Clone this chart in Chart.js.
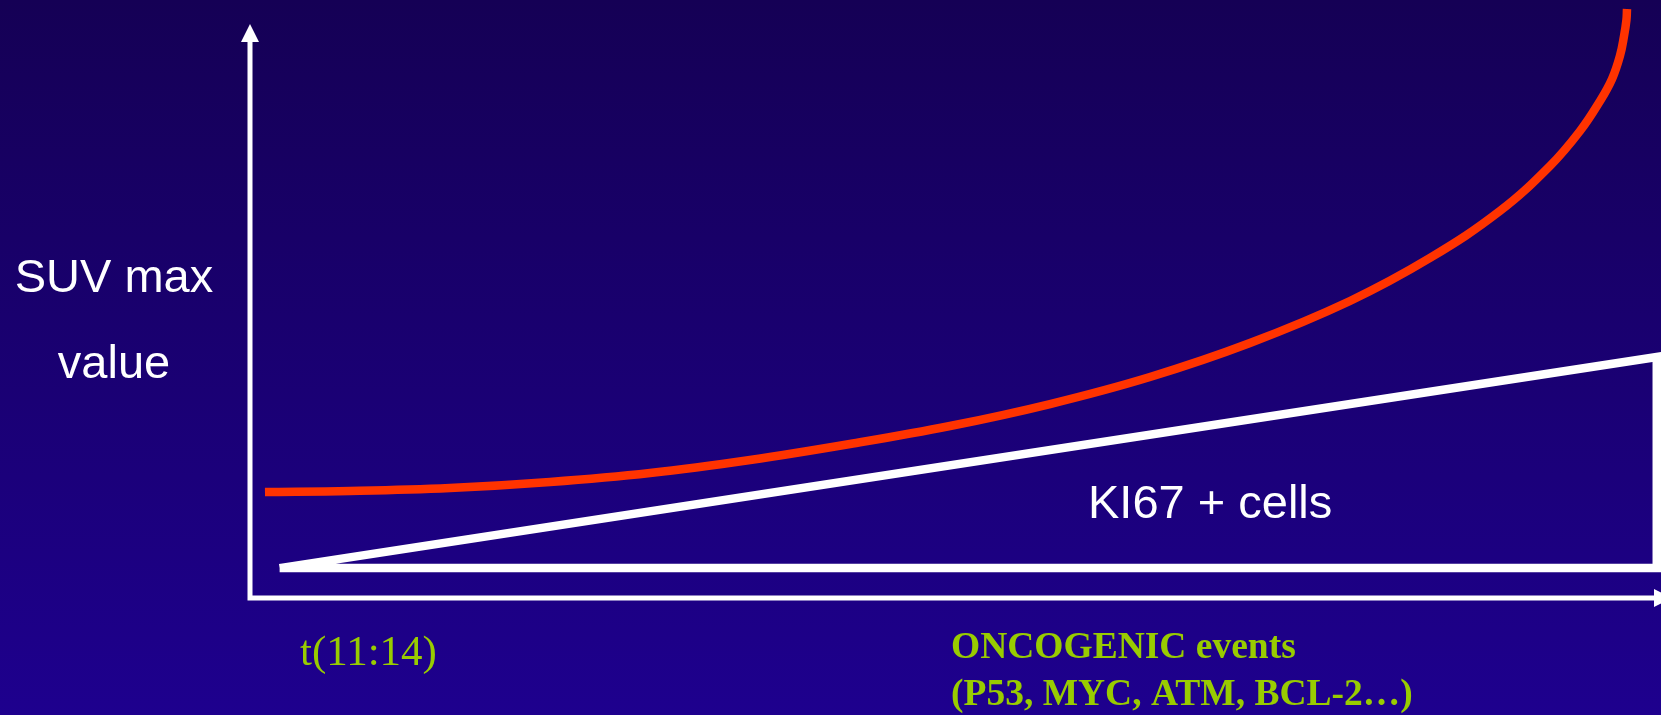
<!DOCTYPE html>
<html>
<head>
<meta charset="utf-8">
<script src="https://cdn.jsdelivr.net/npm/chart.js@4/dist/chart.umd.min.js"></script>
<style>
  html, body { margin: 0; padding: 0; overflow: hidden; background: #190070; }
  #wrap { width: 1661px; height: 715px; position: relative; }
</style>
</head>
<body>
<div id="wrap"><canvas id="c" width="1661" height="715"></canvas></div>
<script>
// SUV max curve (schematic units, x = time, y = SUV)
const suvX = [1.06, 7.09, 14.17, 21.26, 28.35, 35.44, 42.52, 49.61, 56.70, 63.78, 70.87,
              77.96, 83.63, 88.59, 92.13, 94.26, 95.68, 96.53, 97.09, 97.38, 97.55, 97.59];
const suvY = [17.73, 17.89, 18.39, 19.40, 20.90, 23.08, 25.75, 28.76, 32.44, 36.96, 42.64,
              49.67, 56.86, 64.72, 72.24, 78.09, 83.11, 86.79, 90.64, 93.98, 96.66, 98.49];

// KI67 + cells wedge (closed outline)
const ki67X = [2.1, 99.7, 99.7, 2.1];
const ki67Y = [5.0, 40.3, 5.0, 5.0];

// Text
const yAxisTitle = ['SUV max', 'value'];
const ki67Label = 'KI67 + cells';
const xStartLabel = 't(11:14)';
const xEventLabels = ['ONCOGENIC events', '(P53, MYC, ATM, BCL-2…)'];

const toPoints = (xs, ys) => xs.map((x, i) => ({ x, y: ys[i] }));

const backdrop = {
  id: 'backdrop',
  beforeDraw(chart) {
    const { ctx, width, height } = chart;
    const g = ctx.createLinearGradient(0, 0, 0, height);
    g.addColorStop(0, '#150055');
    g.addColorStop(1, '#1e008e');
    ctx.save();
    ctx.fillStyle = g;
    ctx.fillRect(0, 0, width, height);
    ctx.restore();
  }
};

// Axis lines with arrowheads, placed at the origin of the scales
const arrowAxes = {
  id: 'arrowAxes',
  beforeDatasetsDraw(chart) {
    const { ctx, scales: { x, y } } = chart;
    const ox = x.getPixelForValue(0);
    const oy = y.getPixelForValue(0);
    const top = 24, right = 1672, head = 18, half = 9;
    ctx.save();
    ctx.strokeStyle = '#ffffff';
    ctx.fillStyle = '#ffffff';
    ctx.lineWidth = 5;
    ctx.lineCap = 'butt';
    ctx.beginPath();
    ctx.moveTo(ox, top + head - 1);
    ctx.lineTo(ox, oy + 2.5);
    ctx.moveTo(ox - 2.5, oy);
    ctx.lineTo(right - head + 1, oy);
    ctx.stroke();
    ctx.beginPath();
    ctx.moveTo(ox, top);
    ctx.lineTo(ox - half, top + head);
    ctx.lineTo(ox + half, top + head);
    ctx.closePath();
    ctx.fill();
    ctx.beginPath();
    ctx.moveTo(right, oy);
    ctx.lineTo(right - head, oy - half);
    ctx.lineTo(right - head, oy + half);
    ctx.closePath();
    ctx.fill();
    ctx.restore();
  }
};

const labels = {
  id: 'labels',
  afterDatasetsDraw(chart) {
    const { ctx } = chart;
    ctx.save();
    ctx.textBaseline = 'alphabetic';
    ctx.fillStyle = '#ffffff';
    ctx.font = '47px "Liberation Sans", Arial, sans-serif';
    ctx.textAlign = 'center';
    ctx.fillText(yAxisTitle[0], 114, 292);
    ctx.fillText(yAxisTitle[1], 114, 378);
    ctx.textAlign = 'left';
    ctx.fillText(ki67Label, 1088, 518);

    ctx.fillStyle = '#99cc00';
    ctx.font = '43px "Liberation Serif", "Times New Roman", serif';
    ctx.fillText(xStartLabel, 300, 665);
    ctx.font = 'bold 37.5px "Liberation Serif", "Times New Roman", serif';
    ctx.fillText(xEventLabels[0], 951, 658);
    ctx.fillText(xEventLabels[1], 951, 705);
    ctx.restore();
  }
};

new Chart(document.getElementById('c'), {
  type: 'line',
  data: {
    datasets: [
      {
        label: 'SUV max',
        data: toPoints(suvX, suvY),
        borderColor: '#ff3300',
        borderWidth: 8.5,
        borderCapStyle: 'butt',
        tension: 0.4,
        pointRadius: 0,
        fill: false,
        clip: false
      },
      {
        label: ki67Label,
        data: toPoints(ki67X, ki67Y),
        borderColor: '#ffffff',
        borderWidth: 8.5,
        borderCapStyle: 'butt',
        borderJoinStyle: 'miter',
        tension: 0,
        pointRadius: 0,
        fill: false,
        clip: false
      }
    ]
  },
  options: {
    responsive: false,
    devicePixelRatio: 1,
    animation: false,
    layout: { padding: { left: 250, right: 0, top: 0, bottom: 117 } },
    plugins: { legend: { display: false }, tooltip: { enabled: false } },
    scales: {
      x: { type: 'linear', min: 0, max: 100, display: false },
      y: { type: 'linear', min: 0, max: 100, display: false }
    }
  },
  plugins: [backdrop, arrowAxes, labels]
});
</script>
</body>
</html>
